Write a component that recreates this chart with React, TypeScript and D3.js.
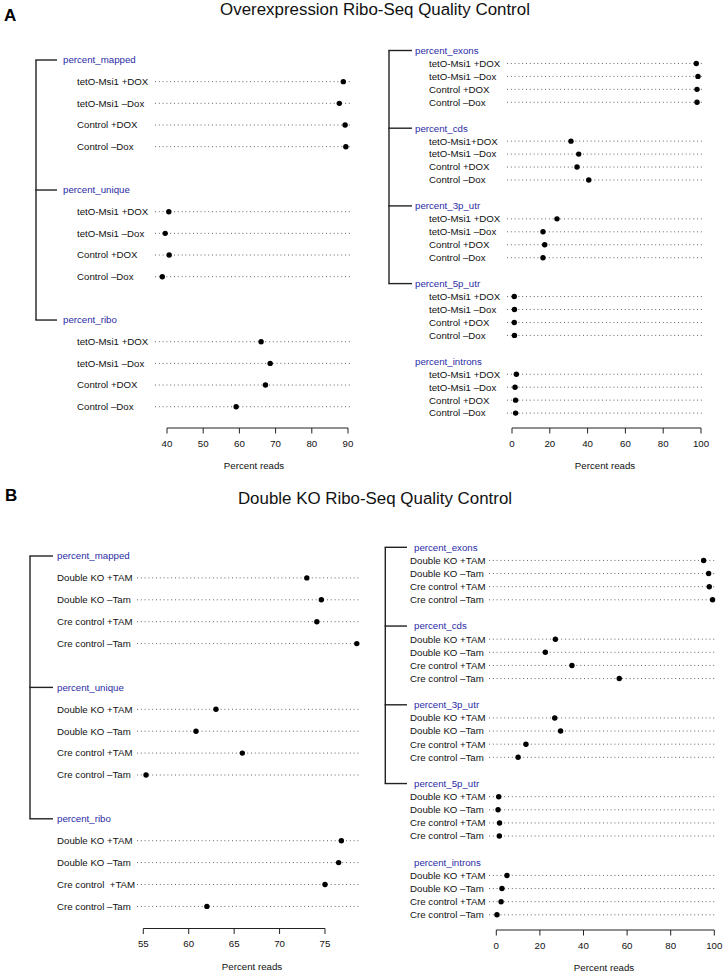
import React from "react";
import * as d3 from "d3";

// ---------- data ----------
const oeLabels = ["tetO-Msi1 +DOX", "tetO-Msi1 –Dox", "Control +DOX", "Control –Dox"];
const oeCdsLabels = ["tetO-Msi1+DOX", "tetO-Msi1 –Dox", "Control +DOX", "Control –Dox"];
const dkoLabels = ["Double KO +TAM", "Double KO –Tam", "Cre control +TAM", "Cre control –Tam"];
const dkoRiboLabels = ["Double KO +TAM", "Double KO –Tam", "Cre control  +TAM", "Cre control –Tam"];

const oeMapped = [88.7, 87.6, 89.2, 89.4];
const oeUnique = [40.5, 39.5, 40.6, 38.7];
const oeRibo = [66.0, 68.5, 67.2, 59.1];
const oeExons = [97.5, 98.4, 97.9, 97.9];
const oeCds = [31.2, 35.3, 34.4, 40.6];
const oe3pUtr = [23.8, 16.4, 17.3, 16.4];
const oe5pUtr = [1.2, 1.3, 1.2, 1.3];
const oeIntrons = [2.3, 1.6, 1.9, 1.9];

const dkoMapped = [73.0, 74.6, 74.1, 78.5];
const dkoUnique = [63.0, 60.8, 65.9, 55.3];
const dkoRibo = [76.8, 76.5, 75.0, 62.0];
const dkoExons = [95.1, 97.4, 97.7, 99.2];
const dkoCds = [27.1, 22.5, 34.7, 56.4];
const dko3pUtr = [26.8, 29.5, 13.6, 10.0];
const dko5pUtr = [1.1, 0.8, 1.5, 1.4];
const dkoIntrons = [4.9, 2.6, 2.2, 0.3];

const leftTicksA = [40, 50, 60, 70, 80, 90];
const leftTicksB = [55, 60, 65, 70, 75];
const rightTicks = [0, 20, 40, 60, 80, 100];

const titleA = "Overexpression Ribo-Seq Quality Control";
const titleB = "Double KO Ribo-Seq Quality Control";
const xAxisTitle = "Percent reads";

// ---------- styling ----------
const FONT = "'Liberation Sans', Arial, Helvetica, sans-serif";
const BLUE = "#2b2ba6";
const FS = 9.7;

type Group = { name: string; labels: string[]; values: number[] };

type Geo = {
  bracketX: number;
  stubX: number;
  headX: number;
  labelX: number;
  lineX1: number;
  lineX2: number;
  y0: number;
  unit: number;
  axisY: number;
  xTitleX: number;
  r0: number;
  r1: number;
};

function Panel({ groups, bracketCount, domain, ticks, geo }: {
  groups: Group[];
  bracketCount: number;
  domain: [number, number];
  ticks: number[];
  geo: Geo;
}) {
  const x = d3.scaleLinear().domain(domain).range([geo.r0, geo.r1]);
  const y = d3.scaleLinear().domain([0, 1]).range([geo.y0, geo.y0 + geo.unit]);
  const headSlot = (g: number) => g * 6;
  const bracketTop = y(headSlot(0));
  const bracketBot = y(headSlot(bracketCount - 1));
  return (
    <g>
      <line x1={geo.bracketX} x2={geo.bracketX} y1={bracketTop} y2={bracketBot} stroke="#222" strokeWidth={1.4} />
      {groups.map((grp, g) => {
        const hy = y(headSlot(g));
        return (
          <g key={grp.name}>
            {g < bracketCount && (
              <line x1={geo.bracketX - 0.7} x2={geo.stubX} y1={hy} y2={hy} stroke="#222" strokeWidth={1.4} />
            )}
            <text x={geo.headX} y={hy} dy="0.35em" fill={BLUE} fontSize={FS}>{grp.name}</text>
            {grp.values.map((v, i) => {
              const ry = y(headSlot(g) + 1 + i);
              return (
                <g key={i}>
                  <text x={geo.labelX} y={ry} dy="0.35em" fill="#111" fontSize={FS} style={{ whiteSpace: "pre" }}>
                    {grp.labels[i]}
                  </text>
                  <line x1={geo.lineX1} x2={geo.lineX2} y1={ry} y2={ry} stroke="#555" strokeWidth={0.9} strokeDasharray="1 2.8" />
                  <circle cx={x(v)} cy={ry} r={2.7} fill="#000" />
                </g>
              );
            })}
          </g>
        );
      })}
      <g>
        <line x1={x(ticks[0])} x2={x(ticks[ticks.length - 1])} y1={geo.axisY} y2={geo.axisY} stroke="#222" strokeWidth={1} />
        {ticks.map((t) => (
          <g key={t}>
            <line x1={x(t)} x2={x(t)} y1={geo.axisY} y2={geo.axisY + 5.5} stroke="#222" strokeWidth={1} />
            <text x={x(t)} y={geo.axisY + 18.5} textAnchor="middle" fontSize={FS} fill="#111">{t}</text>
          </g>
        ))}
        <text x={geo.xTitleX} y={geo.axisY + 41} textAnchor="middle" fontSize={FS} fill="#111">{xAxisTitle}</text>
      </g>
    </g>
  );
}

export default function App() {
  const oeLeft: Group[] = [
    { name: "percent_mapped", labels: oeLabels, values: oeMapped },
    { name: "percent_unique", labels: oeLabels, values: oeUnique },
    { name: "percent_ribo", labels: oeLabels, values: oeRibo },
  ];
  const oeRight: Group[] = [
    { name: "percent_exons", labels: oeLabels, values: oeExons },
    { name: "percent_cds", labels: oeCdsLabels, values: oeCds },
    { name: "percent_3p_utr", labels: oeLabels, values: oe3pUtr },
    { name: "percent_5p_utr", labels: oeLabels, values: oe5pUtr },
    { name: "percent_introns", labels: oeLabels, values: oeIntrons },
  ];
  const dkoLeft: Group[] = [
    { name: "percent_mapped", labels: dkoLabels, values: dkoMapped },
    { name: "percent_unique", labels: dkoLabels, values: dkoUnique },
    { name: "percent_ribo", labels: dkoRiboLabels, values: dkoRibo },
  ];
  const dkoRight: Group[] = [
    { name: "percent_exons", labels: dkoLabels, values: dkoExons },
    { name: "percent_cds", labels: dkoLabels, values: dkoCds },
    { name: "percent_3p_utr", labels: dkoLabels, values: dko3pUtr },
    { name: "percent_5p_utr", labels: dkoLabels, values: dko5pUtr },
    { name: "percent_introns", labels: dkoLabels, values: dkoIntrons },
  ];

  return (
    <svg
      width={724}
      height={973}
      viewBox="0 0 724 973"
      style={{ position: "absolute", left: 0, top: 0, background: "#fff" }}
      fontFamily={FONT}
    >
      <rect width={724} height={973} fill="#fff" />
      <text x={4} y={20.5} fontSize={17} fontWeight="bold" fill="#000">A</text>
      <text x={375} y={14.5} textAnchor="middle" fontSize={16.9} fill="#111">{titleA}</text>
      <text x={5} y={501} fontSize={17} fontWeight="bold" fill="#000">B</text>
      <text x={375} y={504} textAnchor="middle" fontSize={16.9} fill="#111">{titleB}</text>

      <Panel
        groups={oeLeft}
        bracketCount={3}
        domain={[40, 90]}
        ticks={leftTicksA}
        geo={{ bracketX: 36, stubX: 57, headX: 63, labelX: 77, lineX1: 155, lineX2: 350, y0: 60, unit: 21.67, axisY: 428, xTitleX: 254, r0: 167, r1: 348 }}
      />
      <Panel
        groups={oeRight}
        bracketCount={4}
        domain={[0, 100]}
        ticks={rightTicks}
        geo={{ bracketX: 389, stubX: 412, headX: 415, labelX: 429, lineX1: 507, lineX2: 702, y0: 50.5, unit: 12.95, axisY: 428, xTitleX: 605, r0: 512, r1: 701 }}
      />
      <Panel
        groups={dkoLeft}
        bracketCount={3}
        domain={[55, 75]}
        ticks={leftTicksB}
        geo={{ bracketX: 30, stubX: 53, headX: 57, labelX: 57, lineX1: 137, lineX2: 361, y0: 556, unit: 21.9, axisY: 928.5, xTitleX: 252, r0: 143.3, r1: 325 }}
      />
      <Panel
        groups={dkoRight}
        bracketCount={4}
        domain={[0, 100]}
        ticks={rightTicks}
        geo={{ bracketX: 385.3, stubX: 407, headX: 414, labelX: 410, lineX1: 489, lineX2: 717, y0: 547.3, unit: 13.125, axisY: 930, xTitleX: 604, r0: 496.3, r1: 714.3 }}
      />
    </svg>
  );
}
